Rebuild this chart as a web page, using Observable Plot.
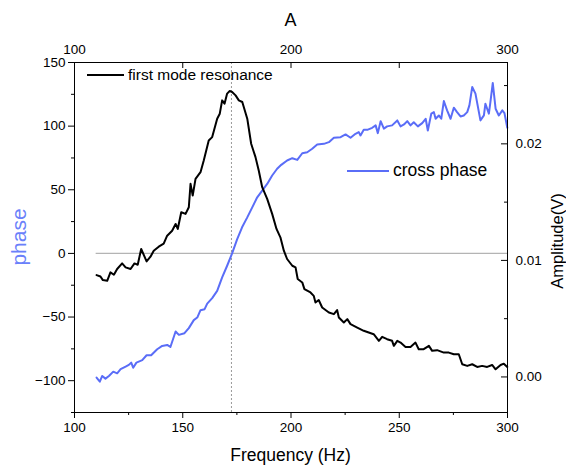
<!DOCTYPE html>
<html>
<head>
<meta charset="utf-8">
<script src="https://cdn.jsdelivr.net/npm/d3@7"></script>
<script src="https://cdn.jsdelivr.net/npm/@observablehq/plot@0.6"></script>
<style>
  body { margin: 0; background: #fff; }
  #wrap { position: relative; width: 566px; height: 466px; font-family: "Liberation Sans", Arial, sans-serif; }
  .leg { position: absolute; display: flex; align-items: center; white-space: nowrap; color: #000; }
  .leg .sw { display: inline-block; height: 0; }
</style>
</head>
<body>
<div id="wrap"></div>
<script>
// ---------- data ----------
const ampFreq = [110.2,112.0,113.1,115.1,116.6,118.2,119.7,122.0,123.6,125.9,127.7,129.2,130.8,133.3,135.1,136.6,138.9,141.2,142.8,145.1,146.7,147.7,149.3,151.3,152.8,153.6,154.6,155.9,158.2,159.7,162.0,163.6,165.9,167.1,168.2,169.3,170.5,171.7,172.8,174.4,175.9,177.5,179.8,181.6,183.6,185.1,186.7,189.0,191.3,193.3,195.1,196.7,198.2,200.6,202.1,203.1,205.2,206.2,209.0,210.5,211.3,212.8,214.4,217.5,219.8,221.3,222.1,224.4,226.0,227.5,230.6,233.6,235.9,238.2,240.6,242.1,244.4,246.7,247.5,249.1,250.6,252.9,255.2,257.5,259.0,261.3,263.7,265.2,267.5,270.6,272.9,275.2,277.5,279.1,281.4,283.7,286.0,288.3,290.6,292.9,294.5,296.8,298.3,299.9];
const ampVolt = [0.00874,0.00862,0.00831,0.00825,0.00897,0.00877,0.00926,0.00974,0.00940,0.00926,0.00974,0.00963,0.01098,0.00991,0.01032,0.01083,0.01118,0.01144,0.01212,0.01255,0.01313,0.01270,0.01413,0.01399,0.01456,0.01657,0.01556,0.01700,0.01757,0.01857,0.02029,0.02058,0.02216,0.02259,0.02373,0.02345,0.02431,0.02453,0.02445,0.02416,0.02373,0.02359,0.02216,0.02001,0.01886,0.01771,0.01628,0.01528,0.01399,0.01270,0.01198,0.01083,0.01012,0.00954,0.00940,0.00840,0.00811,0.00754,0.00725,0.00696,0.00639,0.00660,0.00596,0.00553,0.00539,0.00574,0.00510,0.00467,0.00496,0.00453,0.00424,0.00396,0.00381,0.00367,0.00310,0.00344,0.00324,0.00310,0.00267,0.00310,0.00295,0.00258,0.00258,0.00295,0.00238,0.00238,0.00267,0.00224,0.00230,0.00209,0.00209,0.00195,0.00195,0.00109,0.00095,0.00109,0.00086,0.00095,0.00086,0.00103,0.00066,0.00103,0.00114,0.00086];

const phaseFreq = [110.2,111.7,112.8,114.3,115.9,117.9,119.7,121.3,123.6,125.1,126.2,127.1,128.6,131.3,133.3,135.4,138.2,140.5,142.8,144.3,146.7,148.2,150.8,152.8,155.1,156.7,158.2,160.1,161.3,163.6,165.9,168.2,170.5,172.8,175.1,177.4,179.8,182.1,184.4,186.7,189.0,191.3,193.6,195.5,198.2,200.6,202.9,205.2,207.5,209.8,212.1,215.2,217.5,219.8,222.9,225.2,227.5,229.8,231.3,232.1,233.6,235.5,237.5,239.1,240.1,241.4,242.9,244.4,246.7,249.1,250.6,252.2,253.7,255.2,256.7,258.6,260.6,262.2,263.2,264.8,266.0,266.8,268.3,269.4,270.6,272.1,273.7,275.2,276.7,278.3,279.8,281.4,282.4,283.7,285.2,287.5,289.1,289.8,291.4,292.1,293.2,294.5,296.0,297.6,298.6,299.9];
const phaseDeg = [-97.6,-100.8,-96.3,-98.4,-96.3,-92.9,-94.2,-91.0,-89.0,-87.6,-85.8,-89.8,-85.8,-83.9,-80.0,-80.0,-75.3,-72.7,-71.9,-73.5,-61.4,-64.0,-62.7,-58.7,-52.4,-50.4,-44.6,-43.8,-39.4,-35.1,-29.4,-18.9,-9.7,0.0,11.0,20.5,28.3,36.2,44.1,49.4,54.6,61.2,66.5,69.6,73.0,74.8,73.5,78.7,79.5,82.2,85.6,86.1,87.4,90.9,91.3,93.5,90.9,94.0,95.3,92.7,97.2,97.2,98.7,100.6,94.5,103.9,98.0,99.8,100.6,104.5,99.8,101.3,103.9,100.6,103.1,99.8,102.4,105.8,96.6,109.8,111.0,105.8,108.4,105.8,119.7,112.4,105.8,114.5,111.0,107.6,108.4,111.0,116.3,130.7,125.5,104.5,108.4,117.6,109.8,118.9,133.9,113.7,108.4,112.4,110.2,98.7];

const freqDomain = [100, 300];
const phaseDomain = [-125, 150];
const ampDomain = [-0.00305, 0.02698];

const xTickMajor = [100, 150, 200, 250, 300];
const xTickMinor = [125, 175, 225, 275];
const topTicks = [100, 150, 200, 250, 300];
const topLabels = [100, 200, 300];
const phaseTickMajor = [-100, -50, 0, 50, 100, 150];
const phaseTickMinor = [-125, -75, -25, 25, 75, 125];
const ampTickMajor = [0, 0.01, 0.02];
const ampTickMinor = [0.005, 0.015, 0.025];
const resonanceFreq = [172.5];
const zeroPhase = [0];
const zeroLineFreq = [110, 300];

const seriesNames = ["first mode resonance", "cross phase"];
const axisTitles = { top: "A", bottom: "Frequency (Hz)", left: "phase", right: "Amplitude(V)" };

// ---------- helpers ----------
const BLUE = "#5a6df7";
const ampToY = v => phaseDomain[0] + (v - ampDomain[0]) / (ampDomain[1] - ampDomain[0]) * (phaseDomain[1] - phaseDomain[0]);
const yToAmp = y => ampDomain[0] + (y - phaseDomain[0]) / (phaseDomain[1] - phaseDomain[0]) * (ampDomain[1] - ampDomain[0]);
const fmtAmp = y => { let v = yToAmp(y); if (Math.abs(v) < 1e-9) v = 0; return v.toFixed(2); };

const amp = ampFreq.map((f, i) => ({ f, v: ampVolt[i] }));
const phase = phaseFreq.map((f, i) => ({ f, p: phaseDeg[i] }));

const W = 566, H = 466;
const mL = 74, mR = 59, mT = 62, mB = 54;
const FS = 13.5;

const plot = Plot.plot({
  width: W,
  height: H,
  marginLeft: mL,
  marginRight: mR,
  marginTop: mT,
  marginBottom: mB,
  style: { fontFamily: "'Liberation Sans', Arial, sans-serif", fontSize: FS + "px", color: "#000", background: "#fff", overflow: "visible" },
  x: { domain: freqDomain },
  y: { domain: phaseDomain },
  marks: [
    Plot.ruleY(zeroPhase, { x1: zeroLineFreq[0], x2: zeroLineFreq[1], stroke: "#b4b4b4", strokeWidth: 1.2 }),
    Plot.ruleX(resonanceFreq, { stroke: "#808080", strokeWidth: 0.8, strokeDasharray: "2,2" }),
    Plot.line(phase, { x: "f", y: "p", stroke: BLUE, strokeWidth: 2 }),
    Plot.line(amp, { x: "f", y: d => ampToY(d.v), stroke: "#000", strokeWidth: 2 }),
    Plot.frame({ stroke: "#000", strokeWidth: 1 }),
    // bottom axis
    Plot.axisX(xTickMinor, { anchor: "bottom", tickSize: 3, text: null, label: null }),
    Plot.axisX(xTickMajor, { anchor: "bottom", tickSize: 6, tickPadding: 4, fontSize: FS, label: null }),
    // top axis (ticks inward)
    Plot.axisX(topTicks, { anchor: "top", tickSize: -5, text: null, label: null }),
    Plot.axisX(topLabels, { anchor: "top", tickSize: 0, tickPadding: 9, fontSize: FS, label: null }),
    // left axis
    Plot.axisY(phaseTickMinor, { anchor: "left", tickSize: 3, text: null, label: null }),
    Plot.axisY(phaseTickMajor, { anchor: "left", tickSize: 6, tickPadding: 3, fontSize: FS, label: null }),
    // right axis (amplitude, ticks inward)
    Plot.axisY(ampTickMinor.map(ampToY), { anchor: "right", tickSize: -4, text: null, label: null }),
    Plot.axisY(ampTickMajor.map(ampToY), { anchor: "right", tickSize: -7, text: null, label: null }),
    Plot.axisY(ampTickMajor.map(ampToY), { anchor: "right", tickSize: 0, tickPadding: 8, fontSize: FS, tickFormat: fmtAmp, label: null })
  ]
});

const wrap = document.getElementById("wrap");
wrap.appendChild(plot);

// axis titles
const svg = d3.select(plot);
const font = "'Liberation Sans', Arial, sans-serif";
const cx = mL + (W - mL - mR) / 2;
const cy = mT + (H - mT - mB) / 2;
svg.append("text").attr("x", cx).attr("y", 26).attr("text-anchor", "middle")
  .style("font-family", font).style("font-size", "18px").attr("fill", "#000").text(axisTitles.top);
svg.append("text").attr("x", cx).attr("y", 461).attr("text-anchor", "middle")
  .style("font-family", font).style("font-size", "17.5px").attr("fill", "#000").text(axisTitles.bottom);
svg.append("text").attr("transform", `translate(26,${cy}) rotate(-90)`).attr("text-anchor", "middle")
  .style("font-family", font).style("font-size", "21px").attr("fill", "#6a80fa").text(axisTitles.left);
svg.append("text").attr("transform", `translate(563,${cy + 4}) rotate(-90)`).attr("text-anchor", "middle")
  .style("font-family", font).style("font-size", "16.5px").attr("fill", "#000").text(axisTitles.right);

// legends (HTML overlay)
function legend(name, color, left, top, lineW, fontSize) {
  const d = document.createElement("div");
  d.className = "leg";
  d.style.left = left + "px";
  d.style.top = top + "px";
  d.style.fontSize = fontSize + "px";
  const sw = document.createElement("span");
  sw.className = "sw";
  sw.style.width = lineW + "px";
  sw.style.borderTop = "2px solid " + color;
  sw.style.marginRight = "4px";
  const t = document.createElement("span");
  t.textContent = name;
  d.appendChild(sw); d.appendChild(t);
  wrap.appendChild(d);
}
legend(seriesNames[0], "#000", 87, 66, 37, 15.5);
legend(seriesNames[1], BLUE, 347, 160, 42, 17.5);
</script>
</body>
</html>
